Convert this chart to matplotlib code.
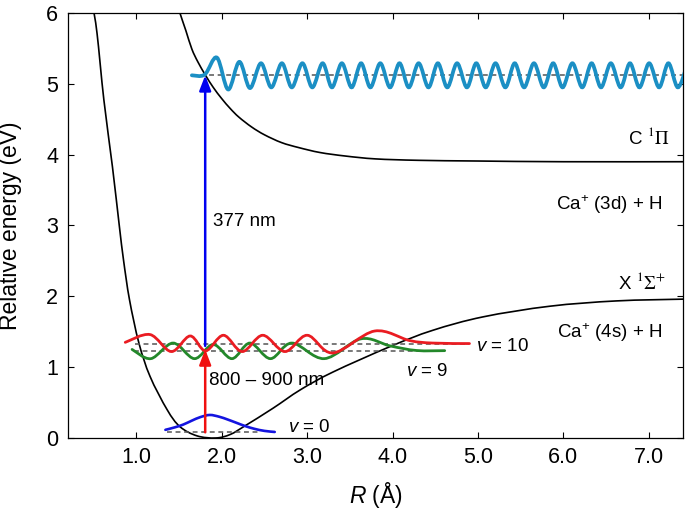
import matplotlib
matplotlib.use("Agg")
import matplotlib.pyplot as plt
from matplotlib.path import Path
from matplotlib.patches import PathPatch
import numpy as np

plt.rcParams['font.family'] = ['Liberation Sans', 'DejaVu Sans']
plt.rcParams['mathtext.fontset'] = 'custom'
plt.rcParams['mathtext.rm'] = 'Liberation Sans'
plt.rcParams['mathtext.it'] = 'Liberation Sans:italic'
plt.rcParams['mathtext.bf'] = 'Liberation Sans:bold'

# ---------------- data ----------------
# X 1Sigma+ potential curve (R in Angstrom, E in eV)
x_state_R = [0.49, 0.54, 0.62, 0.72, 0.80, 0.85, 0.92, 1.03, 1.16, 1.36, 1.51, 1.71,
             1.93, 2.10, 2.27, 2.60, 2.92, 3.30, 3.97, 4.47, 5.06, 5.84, 6.62, 7.40]
x_state_E = [6.10, 5.71, 4.77, 3.83, 3.00, 2.51, 1.95, 1.34, 0.87, 0.40, 0.16, 0.03,
             0.00, 0.05, 0.17, 0.42, 0.68, 0.93, 1.29, 1.52, 1.71, 1.86, 1.935, 1.96]

# C 1Pi potential curve
c_state_R = [1.49, 1.51, 1.58, 1.65, 1.72, 1.81, 1.90, 2.00, 2.10, 2.20, 2.35, 2.50,
             2.70, 2.90, 3.15, 3.45, 3.80, 4.30, 5.00, 6.00, 7.40]
c_state_E = [6.10, 6.00, 5.75, 5.49, 5.31, 5.12, 4.95, 4.79, 4.65, 4.53, 4.39, 4.28,
             4.17, 4.10, 4.03, 3.98, 3.94, 3.92, 3.91, 3.90, 3.90]

# v = 0 wavefunction (blue)
v0_R = [1.34, 1.45, 1.55, 1.65, 1.75, 1.86, 1.97, 2.07, 2.17, 2.27, 2.38, 2.50, 2.62]
v0_E = [0.115, 0.150, 0.190, 0.245, 0.295, 0.325, 0.300, 0.260, 0.215, 0.170, 0.130, 0.100, 0.085]
v0_level = 0.08
v0_span = [1.36, 2.45]

# v = 9 wavefunction (green), extrema and end points
v9_R = [0.95, 1.17, 1.43, 1.68, 1.90, 2.12, 2.33, 2.57, 2.82, 3.20, 3.63, 3.97, 4.28, 4.61]
v9_E = [1.25, 1.12, 1.34, 1.12, 1.32, 1.12, 1.34, 1.12, 1.34, 1.12, 1.40, 1.30, 1.235, 1.233]
v9_level = 1.233
v9_span = [0.97, 4.59]

# v = 10 wavefunction (red), extrema and end points
v10_R = [0.87, 1.16, 1.41, 1.63, 1.81, 2.02, 2.24, 2.48, 2.74, 3.00, 3.30, 3.79, 4.20, 4.47, 4.90]
v10_E = [1.35, 1.46, 1.22, 1.44, 1.23, 1.45, 1.22, 1.45, 1.22, 1.45, 1.20, 1.51, 1.375, 1.34, 1.333]
v10_level = 1.333
v10_span = [0.99, 4.90]

# continuum wavefunction on C state (cyan), extrema
cw_R = [1.65, 1.80, 1.943, 2.075, 2.206, 2.33, 2.459, 2.58, 2.704, 2.82, 2.944, 3.06,
        3.181, 3.29, 3.406, 3.52, 3.631, 3.74, 3.856, 3.97, 4.081, 4.19, 4.305, 4.42,
        4.530, 4.64, 4.755, 4.87, 4.980, 5.09, 5.205, 5.32, 5.430, 5.54, 5.655, 5.77,
        5.880, 5.99, 6.105, 6.22, 6.330, 6.44, 6.555, 6.67, 6.779, 6.89, 7.004, 7.12,
        7.229, 7.34, 7.454]
cw_E = [5.12, 5.13, 5.37, 4.92, 5.31, 4.94] + [5.29, 4.95] * 22 + [5.29]
cw_level = 5.12
cw_span = [1.65, 7.40]

# transitions
trans_R = 1.806
red_arrow = [0.08, 1.25]
blue_arrow = [1.30, 5.12]

x_ticks = [1.0, 2.0, 3.0, 4.0, 5.0, 6.0, 7.0]
y_ticks = [0, 1, 2, 3, 4, 5, 6]


def smooth_patch(xs, ys, **kw):
    P = np.column_stack([xs, ys]).astype(float)
    n = len(P)
    verts = [tuple(P[0])]
    codes = [Path.MOVETO]
    for i in range(n - 1):
        p0 = P[i - 1] if i > 0 else P[i]
        p1 = P[i]
        p2 = P[i + 1]
        p3 = P[i + 2] if i + 2 < n else P[i + 1]
        c1 = p1 + (p2 - p0) / 6.0
        c2 = p2 - (p3 - p1) / 6.0
        verts += [tuple(c1), tuple(c2), tuple(p2)]
        codes += [Path.CURVE4] * 3
    return PathPatch(Path(verts, codes), fill=False, **kw)


fig = plt.figure(figsize=(6.85, 5.11), dpi=100)
ax = fig.add_axes([0.0993, 0.1429, 0.8978, 0.8317])

ax.set_xlim(0.2, 7.4)
ax.set_ylim(0, 6)

# potential curves
ax.add_patch(smooth_patch(x_state_R, x_state_E, edgecolor='black', lw=1.2, zorder=2))
ax.add_patch(smooth_patch(c_state_R, c_state_E, edgecolor='black', lw=1.2, zorder=2))

# dashed levels
dash_kw = dict(color='#555555', lw=1.1, dashes=(3.2, 2.4), zorder=2.5)
ax.plot(v0_span, [v0_level] * 2, **dash_kw)
ax.plot(v9_span, [v9_level] * 2, **dash_kw)
ax.plot(v10_span, [v10_level] * 2, **dash_kw)
ax.plot(cw_span, [cw_level] * 2, **dash_kw)

# wavefunctions
ax.add_patch(smooth_patch(v0_R, v0_E, edgecolor='#1414e0', lw=1.9, zorder=3,
                          capstyle='round'))
ax.add_patch(smooth_patch(v9_R, v9_E, edgecolor='#23882a', lw=2.0, zorder=3,
                          capstyle='round'))
ax.add_patch(smooth_patch(v10_R, v10_E, edgecolor='#ea1c22', lw=2.0, zorder=3.1,
                          capstyle='round'))
ax.add_patch(smooth_patch(cw_R, cw_E, edgecolor='#1b8fc4', lw=2.7, zorder=3,
                          capstyle='round'))

# arrows
ax.annotate('', xy=(trans_R, blue_arrow[1]), xytext=(trans_R, blue_arrow[0]),
            arrowprops=dict(arrowstyle='-|>,head_length=0.65,head_width=0.25',
                            mutation_scale=14, color='#0000f0', lw=1.8,
                            shrinkA=0, shrinkB=0), zorder=4)
ax.annotate('', xy=(trans_R, red_arrow[1]), xytext=(trans_R, red_arrow[0]),
            arrowprops=dict(arrowstyle='-|>,head_length=0.65,head_width=0.25',
                            mutation_scale=14, color='#f01010', lw=1.8,
                            shrinkA=0, shrinkB=0), zorder=4)

# texts
fs = 13.5
ax.text(1.903, 2.99, '377 nm', fontsize=fs, ha='left', va='baseline')
ax.text(1.845, 0.744, '800 \u2013 900 nm', fontsize=fs, ha='left', va='baseline')
ax.text(4.98, 1.233, '$v$ = 10', fontsize=fs, ha='left', va='baseline')
ax.text(4.16, 0.876, '$v$ = 9', fontsize=fs, ha='left', va='baseline')
ax.text(2.78, 0.085, '$v$ = 0', fontsize=fs, ha='left', va='baseline')
ax.text(7.24, 4.15, 'C $^{1}\\Pi$', fontsize=fs, ha='right', va='baseline',
        math_fontfamily='stix')
ax.text(7.16, 3.22, 'Ca$^{+}$ (3d) + H', fontsize=fs, ha='right', va='baseline')
ax.text(7.20, 2.11, 'X $^{1}\\Sigma^{+}$', fontsize=fs, ha='right', va='baseline',
        math_fontfamily='stix')
ax.text(7.16, 1.41, 'Ca$^{+}$ (4s) + H', fontsize=fs, ha='right', va='baseline')

# axes styling
ax.set_xticks(x_ticks)
ax.set_xticklabels([f'{t:.1f}' for t in x_ticks])
ax.set_yticks(y_ticks)
ax.set_yticklabels([str(t) for t in y_ticks])
ax.tick_params(direction='in', length=4, width=0.8, top=True, right=True,
               labelsize=15.5)
ax.tick_params(axis='x', pad=6.5)
ax.tick_params(axis='y', pad=7.2)
for s in ax.spines.values():
    s.set_linewidth(0.9)

ax.set_xlabel('$R$ (\u00c5)', fontsize=16.5)
ax.set_ylabel('Relative energy (eV)', fontsize=16.5)
ax.xaxis.set_label_coords(0.5, -0.098)
ax.yaxis.set_label_coords(-0.075, 0.5)

fig.savefig('out.png', dpi=100)
